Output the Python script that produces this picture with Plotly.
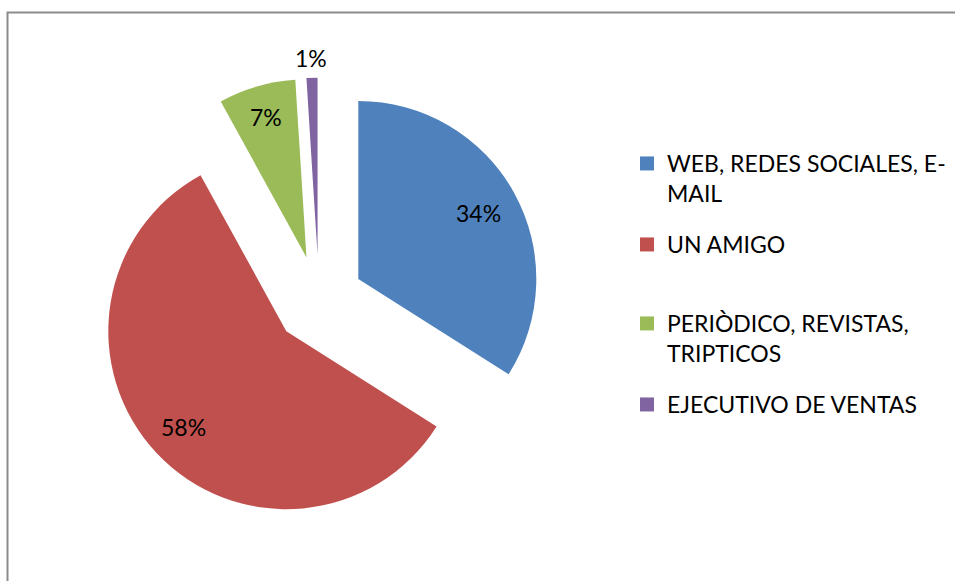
import math
import plotly.graph_objects as go

# Survey: how clients heard about the company (percent of answers)
categories = [
    "WEB, REDES SOCIALES, E-MAIL",
    "UN AMIGO",
    "PERIÒDICO, REVISTAS, TRIPTICOS",
    "EJECUTIVO DE VENTAS",
]
legend_labels = [
    "WEB, REDES SOCIALES, E-<br>MAIL",
    "UN AMIGO",
    "PERIÒDICO, REVISTAS,<br>TRIPTICOS",
    "EJECUTIVO DE VENTAS",
]
percentages = [34, 58, 7, 1]
colors = ["#4F81BD", "#C0504D", "#9BBB59", "#8064A2"]

W, H = 955, 581
FONT = "Lato"
FONT_SIZE = 23

# pie geometry (pixels): centre, radius, explosion
PULL = 0.252
CX, CY, R = 319.0, 300.5, 178.0
HALF = R * (1 + PULL)
dom_x = [(CX - HALF) / W, (CX + HALF) / W]
dom_y = [1 - (CY + HALF) / H, 1 - (CY - HALF) / H]

# radial position of each percentage label, as a fraction of the radius
label_radius = [0.77, 0.79, 0.82, 1.11]

fig = go.Figure()
fig.add_trace(go.Pie(
    labels=categories,
    values=percentages,
    marker=dict(colors=colors, line=dict(width=0)),
    sort=False,
    direction="clockwise",
    rotation=0,
    pull=[PULL] * len(percentages),
    textinfo="none",
    hoverinfo="label+percent",
    showlegend=False,
    domain=dict(x=dom_x, y=dom_y),
))

# percentage labels placed along each slice's mid-angle
total = sum(percentages)
cum = 0.0
annotations = []
for v, f in zip(percentages, label_radius):
    mid = (cum + v / 2) / total
    cum += v
    th = 2 * math.pi * mid
    d = (PULL + f) * R
    px = CX + d * math.sin(th)
    py = CY - d * math.cos(th)
    annotations.append(dict(
        x=px / W, y=1 - py / H, xref="paper", yref="paper",
        text=f"{v}%", showarrow=False,
        xanchor="center", yanchor="middle",
        font=dict(family=FONT, size=FONT_SIZE, color="#000000"),
    ))

# legend: one entry per slice, each in its own legend box
legend_tops = [142, 223, 302, 383]
LEG_X = 627
legend_keys = ["legend", "legend2", "legend3", "legend4"]
for name, col, key in zip(legend_labels, colors, legend_keys):
    fig.add_trace(go.Scatter(
        x=[None], y=[None], mode="markers", name=name,
        marker=dict(symbol="square", size=14, color=col, line=dict(width=0)),
        legend=key, showlegend=True, hoverinfo="skip",
    ))

layout_legends = {}
for key, top in zip(legend_keys, legend_tops):
    layout_legends[key] = dict(
        x=LEG_X / W, y=1 - top / H, xanchor="left", yanchor="top",
        bgcolor="rgba(0,0,0,0)", borderwidth=0,
        font=dict(family=FONT, size=FONT_SIZE, color="#000000"),
        valign="top", itemclick=False, itemdoubleclick=False,
    )

fig.update_layout(
    width=W, height=H,
    margin=dict(l=0, r=0, t=0, b=0),
    paper_bgcolor="white", plot_bgcolor="white",
    xaxis=dict(visible=False), yaxis=dict(visible=False),
    annotations=annotations,
    shapes=[dict(
        type="rect", xref="paper", yref="paper",
        x0=7.5 / W, x1=1.05, y0=-0.05, y1=1 - 12.5 / H,
        line=dict(color="#8C8C8C", width=2), fillcolor="rgba(0,0,0,0)",
        layer="below",
    )],
    **layout_legends,
)

fig.write_html("out.html")
